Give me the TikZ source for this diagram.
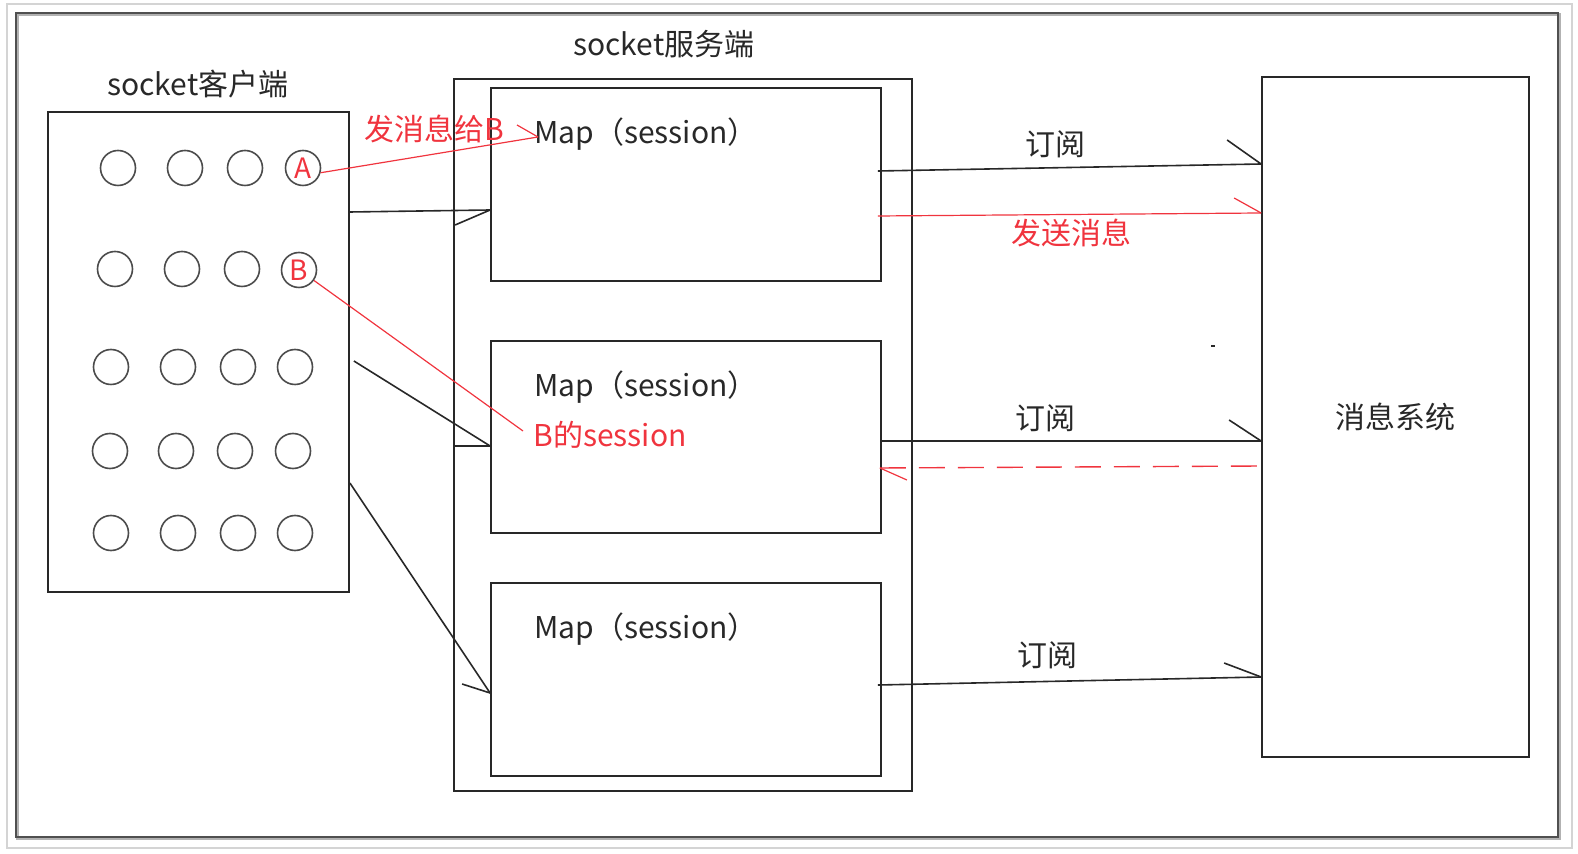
\documentclass[tikz,border=0pt]{standalone}
\usepackage{fontspec}
\newfontfamily\cjk{Noto Sans CJK SC}
\usetikzlibrary{fit,calc}
\definecolor{myred}{RGB}{240,52,62}
\definecolor{framec}{RGB}{80,80,80}
\definecolor{outerc}{RGB}{212,212,212}
\definecolor{inkc}{RGB}{40,40,40}
\begin{document}
\begin{tikzpicture}[x=0.5pt,y=-0.5pt,
  font=\cjk\fontsize{15}{17}\selectfont,
  boxn/.style={draw=inkc, line width=0.9pt, inner sep=0pt},
  circn/.style={circle, draw=black!70, line width=0.8pt, minimum size=17.5pt, inner sep=0pt, text=myred, font=\cjk\fontsize{14}{16}\selectfont},
  conn/.style={draw=inkc, line width=0.8pt},
  redln/.style={draw=myred, line width=0.6pt},
  lbl/.style={inner sep=0pt, text=inkc},
  redlbl/.style={inner sep=0pt, text=myred},
  dashln/.style={draw=myred, line width=0.7pt, dash pattern=on 13pt off 6.5pt}]
\useasboundingbox (0,0) rectangle (1578,854);
\draw[outerc, line width=1pt] (7,4) rectangle (1572,848);
\draw[black!30, line width=1.3pt] (17.5,14.5) rectangle (1559.5,838.5);
\draw[framec, line width=1.2pt] (16,13) rectangle (1558,837);

% boxes
\node[boxn, fit={(48,112) (349,592)}] (client) {};
\node[boxn, fit={(454,79) (912,791)}] (server) {};
\node[boxn, fit={(491,88) (881,281)}] (m1) {};
\node[boxn, fit={(491,341) (881,533)}] (m2) {};
\node[boxn, fit={(491,583) (881,776)}] (m3) {};
\node[boxn, fit={(1262,77) (1529,757)}] (mq) {};

% labels
\node[lbl] (tclient) at (198,84) {socket客户端};
\node[lbl] (tserver) at (664,44) {socket服务端};
\node[lbl, anchor=west] (map1) at (534,134) {Map（session）};
\node[lbl, anchor=west] (map2) at (534,387) {Map（session）};
\node[lbl, anchor=west] (map3) at (534,629) {Map（session）};
\node[redlbl, anchor=west] (bsess) at (533,435) {B的session};
\node[redlbl] (fxx) at (434,129) {发消息给B};
\node[lbl] (sub1) at (1055,144) {订阅};
\node[redlbl] (send) at (1071,233) {发送消息};
\node[lbl] (sub2) at (1045,418) {订阅};
\node[lbl] (sub3) at (1047,655) {订阅};
\node[lbl] (mqt) at (1395,417) {消息系统};

% circles
\foreach \x [count=\i] in {118,185,245} \node[circn] (c1\i) at (\x,168) {};
\node[circn] (c14) at (303,168) {A};
\foreach \x [count=\i] in {115,182,242} \node[circn] (c2\i) at (\x,269) {};
\node[circn] (c24) at (299,270) {B};
\foreach \x [count=\i] in {111,178,238,295} \node[circn] (c3\i) at (\x,367) {};
\foreach \x [count=\i] in {110,176,235,293} \node[circn] (c4\i) at (\x,451) {};
\foreach \x [count=\i] in {111,178,238,295} \node[circn] (c5\i) at (\x,533) {};

% A -> Map
\coordinate (aend) at ($(map1.west)+(4,3)$);
\draw[redln] (c14.-15) -- (aend);
\draw[redln] (aend) -- ++(-21,-12);

% B -> B session
\draw[redln] (c24.-35) -- ($(bsess.west)+(-10,-4)$);

% client -> maps
\draw[conn] (client.east |- 0,212) -- (m1.west |- 0,210);
\draw[conn] (m1.west |- 0,210) -- ++(-35,15);
\draw[conn] ($(client.east |- 0,361)+(4,0)$) -- (m2.west |- 0,446);
\draw[conn] (m2.west |- 0,446) -- (server.west |- 0,446);
\draw[conn] (client.east |- 0,483) -- (m3.west |- 0,693);
\draw[conn] (m3.west |- 0,693) -- ++(-28,-9);

% maps -> message system
\draw[conn] ($(m1.east |- 0,171)+(-4,0)$) -- (mq.west |- 0,164);
\draw[conn] (mq.west |- 0,164) -- ++(-34,-24);
\draw[redln] ($(m1.east |- 0,216)+(-4,0)$) -- (mq.west |- 0,213);
\draw[redln] (mq.west |- 0,213) -- ++(-27,-15);
\draw[conn] (m2.east |- 0,441) -- (mq.west |- 0,441);
\draw[conn] (mq.west |- 0,441) -- ++(-32,-21);
\draw[dashln] ($(m2.east |- 0,468)+(-2,0)$) -- (mq.west |- 0,466);
\draw[redln] ($(m2.east |- 0,468)+(-2,0)$) -- ++(27,12);
\draw[conn] ($(m3.east |- 0,685)+(-4,0)$) -- (mq.west |- 0,677);
\draw[conn] (mq.west |- 0,677) -- ++(-37,-14);

% stray mark
\fill[inkc] (1211,345) rectangle (1215,347);
\end{tikzpicture}
\end{document}
